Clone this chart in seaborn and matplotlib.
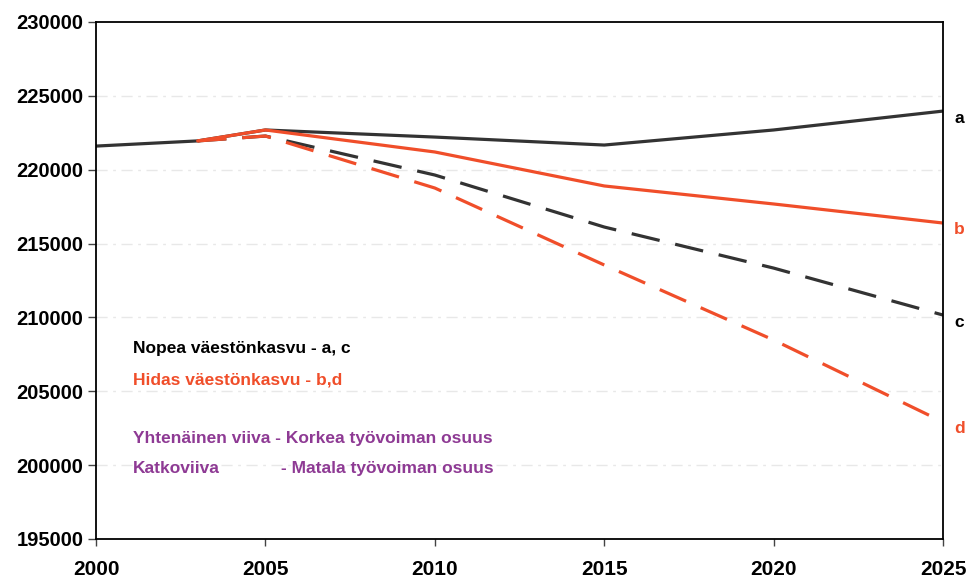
import pandas as pd
import matplotlib
matplotlib.use('Agg')
import matplotlib.pyplot as plt
import seaborn as sns

# Data
years_full = [2000, 2003, 2005, 2010, 2015, 2020, 2025]
years_proj = [2003, 2005, 2010, 2015, 2020, 2025]
a_vals = [221600, 221950, 222690, 222210, 221670, 222690, 223970]
b_vals = [221950, 222690, 221200, 218900, 217680, 216390]
c_vals = [221950, 222280, 219640, 216120, 213340, 210160]
d_vals = [221950, 222280, 218760, 213550, 208470, 202920]

y_ticks = [195000, 200000, 205000, 210000, 215000, 220000, 225000, 230000]
x_ticks = [2000, 2005, 2010, 2015, 2020, 2025]

DARK = '#333333'
RED = '#F04E2A'
PURPLE = '#8E3A94'

sns.set_theme(style='white')
plt.rcParams['font.family'] = ['Liberation Sans', 'DejaVu Sans']
plt.rcParams['font.weight'] = 'bold'
plt.rcParams['text.color'] = 'black'

fig = plt.figure(figsize=(9.71, 5.82), dpi=100)
ax = fig.add_axes([0.0989, 0.0739, 0.8723, 0.8883])

series = [
    ('a', years_full, a_vals, DARK, '-'),
    ('c', years_proj, c_vals, DARK, (0, (9, 5))),
    ('b', years_proj, b_vals, RED, '-'),
    ('d', years_proj, d_vals, RED, (0, (9, 5))),
]

for name, xs, ys, col, ls in series:
    df = pd.DataFrame({'vuosi': xs, 'arvo': ys})
    sns.lineplot(data=df, x='vuosi', y='arvo', color=col, lw=2.3,
                 linestyle=ls, ax=ax, legend=False)
    ax.annotate(name, xy=(xs[-1], ys[-1]), xytext=(8, -5),
                textcoords='offset points', color=col if col == RED else 'black',
                fontsize=12.5, fontweight='bold', va='center', ha='left',
                annotation_clip=False)

ax.set_xlim(2000, 2025)
ax.set_ylim(195000, 230000)
ax.set_xticks(x_ticks)
ax.set_yticks(y_ticks)
ax.set_xlabel('')
ax.set_ylabel('')

for g in y_ticks[1:-1]:
    ax.axhline(g, color='#e8e8e8', lw=1.0, ls=(0, (8, 4, 2, 4)), zorder=0)

for sp in ax.spines.values():
    sp.set_visible(True)
    sp.set_color('black')
    sp.set_linewidth(1.3)

ax.tick_params(axis='y', which='major', direction='out', length=6,
               width=1, color='#444444', labelcolor='black', labelsize=14.5,
               pad=3, left=True)
ax.tick_params(axis='x', which='major', direction='out', length=5,
               width=1, color='#444444', labelcolor='black', labelsize=15,
               pad=10, bottom=True)
for lab in ax.get_yticklabels():
    lab.set_fontweight('heavy')
for lab in ax.get_xticklabels():
    lab.set_fontweight('heavy')
    lab.set_family(['Liberation Sans Narrow', 'Liberation Sans'])

# Selitystekstit
txt = dict(transform=ax.transAxes, fontsize=12.5, fontweight='bold', va='center')
ax.text(0.044, 0.369, 'Nopea väestönkasvu - a, c', color='black', **txt)
ax.text(0.044, 0.307, 'Hidas väestönkasvu - b,d', color=RED, **txt)
ax.text(0.044, 0.195, 'Yhtenäinen viiva - Korkea työvoiman osuus',
        color=PURPLE, **txt)
ax.text(0.044, 0.137, 'Katkoviiva', color=PURPLE, **txt)
ax.text(0.218, 0.137, '- Matala työvoiman osuus', color=PURPLE, **txt)

fig.savefig('out.png', dpi=100)
plt.close(fig)
